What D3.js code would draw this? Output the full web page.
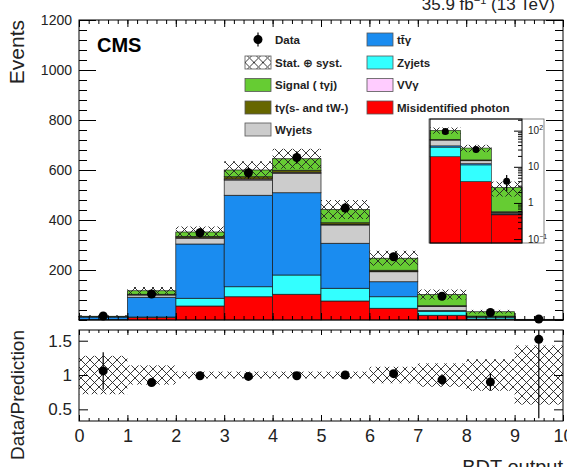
<!DOCTYPE html>
<html>
<head>
<meta charset="utf-8">
<script src="https://cdn.jsdelivr.net/npm/d3@7"></script>
<style>
    body { margin: 0; background: #fff; }
    svg { font-family: "Liberation Sans", Arial, "DejaVu Sans", sans-serif; }
</style>
</head>
<body>
<svg id="chart" width="567" height="467"></svg>
<script>

// BDT output bins
var binEdges = [0, 1, 2, 3, 4, 5, 6, 7, 8, 9, 10];

// stacked MC yields per bin (bottom to top)
var misid   = [1, 10, 56, 93, 103, 76, 47, 19, 3.9, 0.47];
var zgamma  = [1, 2, 31, 40, 77, 51, 46, 16, 7.4, 0.02];
var ttgamma = [10, 79, 217, 366, 329, 180, 60, 3, 0.9, 0.02];
var wgamma  = [1, 9, 23, 61, 78, 73, 40, 17, 2.5, 0.03];
var vvgamma = [0.2, 1, 2, 4, 4, 3, 2, 0.5, 0.2, 0.01];
var tgamma  = [0.3, 2, 5, 9, 8, 6, 4, 1.5, 0.6, 0.02];
var signal  = [1.5, 14, 18, 27, 46, 53, 48, 45, 17.5, 2.13];

// uncertainty on the total prediction (events)
var totalUnc = [4, 15, 22, 35, 40, 38, 30, 20, 7.5, 1.2];

// observed data
var dataCounts = [16, 104, 349, 589, 650, 448, 253, 95, 30, 4];
var dataErr    = [4, 10, 19, 24, 25, 21, 16, 10, 5.5, 1.9];

// lower panel
var ratioVals = [1.06, 0.89, 0.99, 0.98, 0.99, 1.0, 1.02, 0.93, 0.9, 1.52];
var ratioErr  = [0.27, 0.05, 0.03, 0.03, 0.03, 0.03, 0.05, 0.08, 0.13, 1.15];
var ratioUnc  = [0.28, 0.14, 0.05, 0.05, 0.05, 0.05, 0.12, 0.17, 0.23, 0.43];

var mainYTicks  = [200, 400, 600, 800, 1000, 1200];
var ratioYTicks = [0.5, 1, 1.5];
var xTicks      = [0, 1, 2, 3, 4, 5, 6, 7, 8, 9, 10];
var insetLabels = [[100, "10", "2"], [10, "10", ""], [1, "1", ""], [0.1, "10", "\u22121"]];

var keys = ["misid", "zgamma", "ttgamma", "wgamma", "vvgamma", "tgamma", "signal"];
var colors = {
    misid: "#ff0000", zgamma: "#33ffff", ttgamma: "#1a8cf0", wgamma: "#cccccc",
    vvgamma: "#ffccff", tgamma: "#666600", signal: "#66cc33"
};

var rows = binEdges.slice(0, -1).map(function (lo, i) {
    return {
        lo: lo, hi: binEdges[i + 1],
        misid: misid[i], zgamma: zgamma[i], ttgamma: ttgamma[i], wgamma: wgamma[i],
        vvgamma: vvgamma[i], tgamma: tgamma[i], signal: signal[i],
        data: dataCounts[i], err: dataErr[i], unc: totalUnc[i],
        ratio: ratioVals[i], rerr: ratioErr[i], runc: ratioUnc[i]
    };
});
rows.forEach(function (d) {
    d.total = d3.sum(keys, function (k) { return d[k]; });
});

var series = d3.stack().keys(keys)(rows);

var svg = d3.select("#chart");

var defs = svg.append("defs");
defs.append("pattern")
    .attr("id", "hatch")
    .attr("patternUnits", "userSpaceOnUse")
    .attr("width", 9).attr("height", 9)
    .append("path")
    .attr("d", "M0,0L9,9M9,0L0,9")
    .attr("stroke", "#222")
    .attr("stroke-width", 0.9);

var left = 79, right = 563;
var mainTop = 20, mainBot = 320;
var ratioTop = 330, ratioBot = 421;

var x = d3.scaleLinear().domain([0, 10]).range([left, right]);
var y = d3.scaleLinear().domain([0, 1200]).range([mainBot, mainTop]);
var yr = d3.scaleLinear().domain([0.33, 1.656]).range([ratioBot, ratioTop]);

// ---------- main pad ----------
var main = svg.append("g");

main.selectAll("g.layer")
    .data(series)
    .enter().append("g")
    .attr("class", "layer")
    .attr("fill", function (s) { return colors[s.key]; })
    .selectAll("rect")
    .data(function (s) { return s; })
    .enter().append("rect")
    .attr("x", function (d) { return x(d.data.lo); })
    .attr("width", function (d) { return x(d.data.hi) - x(d.data.lo); })
    .attr("y", function (d) { return y(d[1]); })
    .attr("height", function (d) { return y(d[0]) - y(d[1]); })
    .attr("stroke", "#1a1a1a")
    .attr("stroke-width", 0.7);

main.selectAll("rect.unc")
    .data(rows)
    .enter().append("rect")
    .attr("class", "unc")
    .attr("x", function (d) { return x(d.lo); })
    .attr("width", function (d) { return x(d.hi) - x(d.lo); })
    .attr("y", function (d) { return y(d.total + d.unc); })
    .attr("height", function (d) { return y(d.total - d.unc) - y(d.total + d.unc); })
    .attr("fill", "url(#hatch)");

main.selectAll("line.derr")
    .data(rows)
    .enter().append("line")
    .attr("class", "derr")
    .attr("x1", function (d) { return x((d.lo + d.hi) / 2); })
    .attr("x2", function (d) { return x((d.lo + d.hi) / 2); })
    .attr("y1", function (d) { return y(Math.max(d.data - d.err, 0)); })
    .attr("y2", function (d) { return y(d.data + d.err); })
    .attr("stroke", "#000").attr("stroke-width", 1.2);

main.selectAll("circle.data")
    .data(rows)
    .enter().append("circle")
    .attr("class", "data")
    .attr("cx", function (d) { return x((d.lo + d.hi) / 2); })
    .attr("cy", function (d) { return y(d.data); })
    .attr("r", 4.5)
    .attr("fill", "#000");

main.append("rect")
    .attr("x", left).attr("y", mainTop)
    .attr("width", right - left).attr("height", mainBot - mainTop)
    .attr("fill", "none").attr("stroke", "#000");

function styleAxis(g, size) {
    g.select(".domain").remove();
    g.selectAll("line").attr("stroke", "#000");
    g.selectAll("text").attr("font-size", size).attr("fill", "#222");
    g.attr("font-family", null);
}

var minorY = d3.range(0, 1201, 40);
var minorX = d3.range(0, 10.01, 0.2);

main.append("g").attr("transform", "translate(" + left + ",0)")
    .call(d3.axisLeft(y).tickValues(mainYTicks).tickSize(-17).tickPadding(7)
        .tickFormat(d3.format("d")))
    .call(styleAxis, 14);
main.append("g").attr("transform", "translate(" + left + ",0)")
    .call(d3.axisLeft(y).tickValues(minorY).tickSize(-8).tickFormat(""))
    .call(styleAxis, 14);
main.append("g").attr("transform", "translate(" + right + ",0)")
    .call(d3.axisRight(y).tickValues(mainYTicks).tickSize(-17).tickFormat(""))
    .call(styleAxis, 14);
main.append("g").attr("transform", "translate(" + right + ",0)")
    .call(d3.axisRight(y).tickValues(minorY).tickSize(-8).tickFormat(""))
    .call(styleAxis, 14);
main.append("g").attr("transform", "translate(0," + mainBot + ")")
    .call(d3.axisBottom(x).tickValues(xTicks).tickSize(-7).tickFormat(""))
    .call(styleAxis, 14);
main.append("g").attr("transform", "translate(0," + mainBot + ")")
    .call(d3.axisBottom(x).tickValues(minorX).tickSize(-4).tickFormat(""))
    .call(styleAxis, 14);
main.append("g").attr("transform", "translate(0," + mainTop + ")")
    .call(d3.axisTop(x).tickValues(xTicks).tickSize(-7).tickFormat(""))
    .call(styleAxis, 14);
main.append("g").attr("transform", "translate(0," + mainTop + ")")
    .call(d3.axisTop(x).tickValues(minorX).tickSize(-4).tickFormat(""))
    .call(styleAxis, 14);

// titles
svg.append("text")
    .attr("transform", "translate(24," + mainTop + ") rotate(-90)")
    .attr("text-anchor", "end")
    .attr("font-size", 21).attr("fill", "#222")
    .text("Events");

svg.append("text")
    .attr("x", 97).attr("y", 52)
    .attr("font-size", 20).attr("font-weight", "bold")
    .text("CMS");

var lumi = svg.append("text")
    .attr("x", 555).attr("y", 10)
    .attr("text-anchor", "end")
    .attr("font-size", 17).attr("fill", "#222");
lumi.append("tspan").text("35.9 fb");
lumi.append("tspan").attr("dy", -6).attr("font-size", 11).text("\u22121");
lumi.append("tspan").attr("dy", 6).text(" (13 TeV)");

// legend
var legendItems = [
    { label: "Data", type: "data", col: 0, row: 0 },
    { label: "Stat. \u2295 syst.", type: "hatch", col: 0, row: 1 },
    { label: "Signal ( t\u03b3j)", type: "signal", col: 0, row: 2 },
    { label: "t\u03b3(s- and tW-)", type: "tgamma", col: 0, row: 3 },
    { label: "W\u03b3jets", type: "wgamma", col: 0, row: 4 },
    { label: "tt\u0304\u03b3", type: "ttgamma", col: 1, row: 0 },
    { label: "Z\u03b3jets", type: "zgamma", col: 1, row: 1 },
    { label: "VV\u03b3", type: "vvgamma", col: 1, row: 2 },
    { label: "Misidentified photon", type: "misid", col: 1, row: 3 }
];
var legendColX = [245, 367];
var legendRowY = [39.5, 62.5, 85, 107.5, 129.5];

var leg = svg.append("g").selectAll("g")
    .data(legendItems)
    .enter().append("g")
    .attr("transform", function (d) {
        return "translate(" + legendColX[d.col] + "," + legendRowY[d.row] + ")";
    });

leg.filter(function (d) { return d.type !== "data"; })
    .append("rect")
    .attr("x", 0).attr("y", -6.5)
    .attr("width", 26).attr("height", 13)
    .attr("fill", function (d) { return d.type === "hatch" ? "url(#hatch)" : colors[d.type]; })
    .attr("stroke", "#555").attr("stroke-width", 0.8);

var legData = leg.filter(function (d) { return d.type === "data"; });
legData.append("line")
    .attr("x1", 13).attr("x2", 13).attr("y1", -7).attr("y2", 7)
    .attr("stroke", "#000").attr("stroke-width", 1.2);
legData.append("circle")
    .attr("cx", 13).attr("cy", 0).attr("r", 4.5).attr("fill", "#000");

leg.append("text")
    .attr("x", 30).attr("y", 0).attr("dy", "0.35em")
    .attr("font-size", 11.5).attr("font-weight", "bold").attr("fill", "#222")
    .text(function (d) { return d.label; });

// ---------- inset (log scale, last three bins) ----------
var insetRows = rows.slice(7);
var insetSeries = d3.stack().keys(keys)(insetRows);
var xi = d3.scaleLinear().domain([7, 10]).range([430, 522]);
var yi = d3.scaleLog().domain([0.078, 210]).range([243, 119]).clamp(true);
var yiMin = yi.domain()[0];

var inset = svg.append("g");
inset.append("rect")
    .attr("x", 429).attr("y", 119).attr("width", 115).attr("height", 124)
    .attr("fill", "#fff").attr("stroke", "#666").attr("stroke-width", 0.8);

inset.selectAll("g.layer")
    .data(insetSeries)
    .enter().append("g")
    .attr("fill", function (s) { return colors[s.key]; })
    .selectAll("rect")
    .data(function (s) { return s; })
    .enter().append("rect")
    .attr("x", function (d) { return xi(d.data.lo); })
    .attr("width", function (d) { return xi(d.data.hi) - xi(d.data.lo); })
    .attr("y", function (d) { return yi(Math.max(d[1], yiMin)); })
    .attr("height", function (d) { return yi(Math.max(d[0], yiMin)) - yi(Math.max(d[1], yiMin)); })
    .attr("stroke", "#1a1a1a")
    .attr("stroke-width", 0.6);

inset.selectAll("rect.unc")
    .data(insetRows)
    .enter().append("rect")
    .attr("x", function (d) { return xi(d.lo); })
    .attr("width", function (d) { return xi(d.hi) - xi(d.lo); })
    .attr("y", function (d) { return yi(d.total + d.unc); })
    .attr("height", function (d) { return yi(d.total - d.unc) - yi(d.total + d.unc); })
    .attr("fill", "url(#hatch)");

inset.selectAll("line.derr")
    .data(insetRows)
    .enter().append("line")
    .attr("x1", function (d) { return xi((d.lo + d.hi) / 2); })
    .attr("x2", function (d) { return xi((d.lo + d.hi) / 2); })
    .attr("y1", function (d) { return yi(Math.max(d.data - d.err, yiMin)); })
    .attr("y2", function (d) { return yi(d.data + d.err); })
    .attr("stroke", "#000").attr("stroke-width", 1.2);

inset.selectAll("circle")
    .data(insetRows)
    .enter().append("circle")
    .attr("cx", function (d) { return xi((d.lo + d.hi) / 2); })
    .attr("cy", function (d) { return yi(d.data); })
    .attr("r", 3.5).attr("fill", "#000");

inset.append("rect")
    .attr("x", 430).attr("y", 119).attr("width", 92).attr("height", 124)
    .attr("fill", "none").attr("stroke", "#000").attr("stroke-width", 1);

var insetMinor = [];
[0.1, 1, 10, 100].forEach(function (dec) {
    d3.range(2, 10).forEach(function (m) {
        if (dec * m < 210) insetMinor.push(dec * m);
    });
});
inset.append("g").attr("transform", "translate(522,0)")
    .call(d3.axisLeft(yi).tickValues([0.1, 1, 10, 100]).tickSize(8).tickFormat(""))
    .call(styleAxis, 10);
inset.append("g").attr("transform", "translate(522,0)")
    .call(d3.axisLeft(yi).tickValues(insetMinor).tickSize(4).tickFormat(""))
    .call(styleAxis, 10);

var insetText = inset.selectAll("text.lab")
    .data(insetLabels)
    .enter().append("text")
    .attr("class", "lab")
    .attr("x", 528)
    .attr("y", function (d) { return yi(d[0]); })
    .attr("dy", "0.35em")
    .attr("font-size", 10).attr("fill", "#222");
insetText.append("tspan").text(function (d) { return d[1]; });
insetText.append("tspan")
    .attr("dy", -4).attr("font-size", 7)
    .text(function (d) { return d[2]; });

// ---------- ratio pad ----------
var ratio = svg.append("g");

ratio.selectAll("rect.unc")
    .data(rows)
    .enter().append("rect")
    .attr("x", function (d) { return x(d.lo); })
    .attr("width", function (d) { return x(d.hi) - x(d.lo); })
    .attr("y", function (d) { return yr(1 + d.runc); })
    .attr("height", function (d) { return yr(1 - d.runc) - yr(1 + d.runc); })
    .attr("fill", "url(#hatch)");

ratio.selectAll("line.rerr")
    .data(rows)
    .enter().append("line")
    .attr("x1", function (d) { return x((d.lo + d.hi) / 2); })
    .attr("x2", function (d) { return x((d.lo + d.hi) / 2); })
    .attr("y1", function (d) { return yr(Math.max(d.ratio - d.rerr, 0.33)); })
    .attr("y2", function (d) { return yr(Math.min(d.ratio + d.rerr, 1.656)); })
    .attr("stroke", "#000").attr("stroke-width", 1.2);

ratio.selectAll("circle")
    .data(rows)
    .enter().append("circle")
    .attr("cx", function (d) { return x((d.lo + d.hi) / 2); })
    .attr("cy", function (d) { return yr(d.ratio); })
    .attr("r", 4.5).attr("fill", "#000");

ratio.append("rect")
    .attr("x", left).attr("y", ratioTop)
    .attr("width", right - left).attr("height", ratioBot - ratioTop)
    .attr("fill", "none").attr("stroke", "#000");

ratio.append("g").attr("transform", "translate(" + left + ",0)")
    .call(d3.axisLeft(yr).tickValues(ratioYTicks).tickSize(-9).tickPadding(7)
        .tickFormat(function (d) { return d; }))
    .call(styleAxis, 17);
ratio.append("g").attr("transform", "translate(" + right + ",0)")
    .call(d3.axisRight(yr).tickValues(ratioYTicks).tickSize(-9).tickFormat(""))
    .call(styleAxis, 17);
ratio.append("g").attr("transform", "translate(0," + ratioBot + ")")
    .call(d3.axisBottom(x).tickValues(xTicks).tickSize(-6).tickPadding(8)
        .tickFormat(d3.format("d")))
    .call(styleAxis, 18);
ratio.append("g").attr("transform", "translate(0," + ratioBot + ")")
    .call(d3.axisBottom(x).tickValues(minorX).tickSize(-3).tickFormat(""))
    .call(styleAxis, 18);
ratio.append("g").attr("transform", "translate(0," + ratioTop + ")")
    .call(d3.axisTop(x).tickValues(xTicks).tickSize(-5).tickFormat(""))
    .call(styleAxis, 18);
ratio.append("g").attr("transform", "translate(0," + ratioTop + ")")
    .call(d3.axisTop(x).tickValues(minorX).tickSize(-3).tickFormat(""))
    .call(styleAxis, 18);

svg.append("text")
    .attr("transform", "translate(24," + ratioTop + ") rotate(-90)")
    .attr("text-anchor", "end")
    .attr("font-size", 19).attr("fill", "#222")
    .text("Data/Prediction");

svg.append("text")
    .attr("x", 563).attr("y", 474)
    .attr("text-anchor", "end")
    .attr("font-size", 20).attr("fill", "#222")
    .text("BDT output");

</script>
</body>
</html>
